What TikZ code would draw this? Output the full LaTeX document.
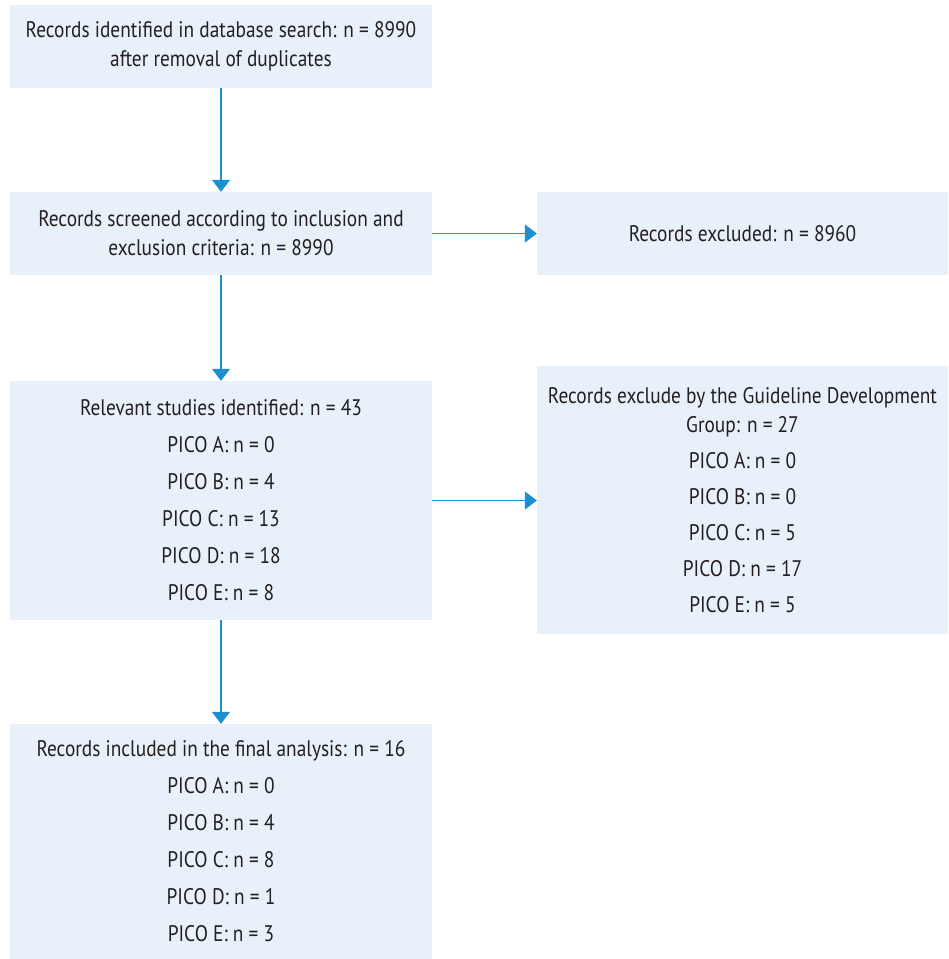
\documentclass[tikz,border=0pt]{standalone}
\usepackage{fontspec}
\setmainfont[FakeStretch=0.86]{PT Sans}
\usetikzlibrary{arrows.meta}
\definecolor{boxfill}{HTML}{E8F1F9}
\definecolor{arrowblue}{HTML}{1B8FD2}
\definecolor{txtgray}{HTML}{231F20}

\begin{document}
\begin{tikzpicture}[x=1pt, y=1pt,
	box/.style={fill=boxfill, inner sep=0pt, align=center, text=txtgray,
		font=\fontsize{22.5}{29}\selectfont},
	flow/.style={draw=arrowblue, line width=1.3pt, -{Triangle[width=18pt, length=12pt]}}]
	\useasboundingbox (0,0) rectangle (949,-959);
	\path (221,-46.5) node [box, minimum width=422, minimum height=83] (ident)
		{Records identified in database search: n = 8990\\ after removal of duplicates};
	\path (221,-233.5) node [box, minimum width=422, minimum height=83] (screen)
		{Records screened according to inclusion and\\ exclusion criteria: n = 8990};
	\path (742.5,-233.5) node [box, minimum width=411, minimum height=83] (excl)
		{Records excluded: n = 8960};
	\path (221,-500.5) node [box, minimum width=422, minimum height=239] (relev)
		{Relevant studies identified: n = 43\\[8pt] PICO A: n = 0\\[8pt] PICO B: n = 4\\[8pt]
		PICO C: n = 13\\[8pt] PICO D: n = 18\\[8pt] PICO E: n = 8};
	\path (742.5,-500) node [box, minimum width=411, minimum height=268] (gdg)
		{Records exclude by the Guideline Development\\ Group: n = 27\\[7pt] PICO A: n = 0\\[7pt]
		PICO B: n = 0\\[7pt] PICO C: n = 5\\[7pt] PICO D: n = 17\\[7pt] PICO E: n = 5};
	\path (221,-841.5) node [box, minimum width=422, minimum height=235] (final)
		{Records included in the final analysis: n = 16\\[8pt] PICO A: n = 0\\[8pt] PICO B: n = 4\\[8pt]
		PICO C: n = 8\\[8pt] PICO D: n = 1\\[8pt] PICO E: n = 3};
	\draw [flow] (ident) -- (screen);
	\draw [flow] (screen) -- (excl);
	\draw [flow] (screen) -- (relev);
	\draw [flow] (relev.east) -- (relev.east -| gdg.west);
	\draw [flow] (relev) -- (final);
\end{tikzpicture}
\end{document}
